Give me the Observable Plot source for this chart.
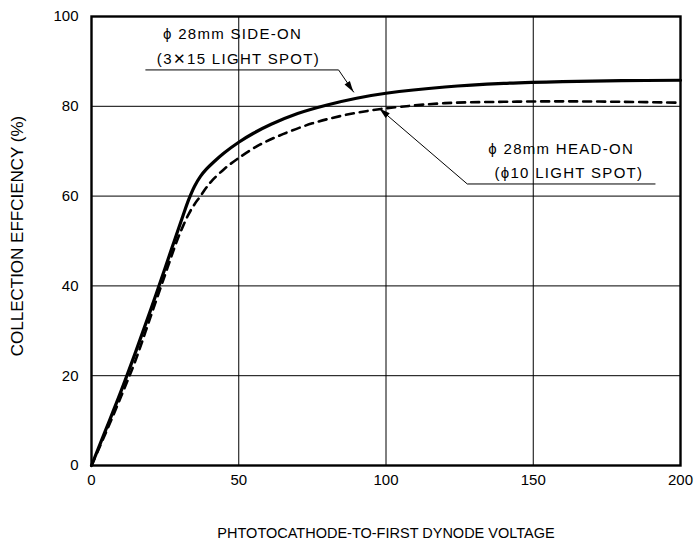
<!DOCTYPE html>
<html>
<head>
<meta charset="utf-8">
<script src="https://cdn.jsdelivr.net/npm/d3@7"></script>
<script src="https://cdn.jsdelivr.net/npm/@observablehq/plot@0.6"></script>
<style>
  html, body { margin: 0; padding: 0; background: #fff; }
  #chart svg { display: block; }
</style>
</head>
<body>
<div id="chart"></div>
<script>
// Side-on (solid)
const sideOnVoltage = [0, 5, 10, 15, 20, 25, 28, 31, 33, 35, 37, 39, 41.5, 45, 50, 55, 61, 70, 80, 90, 100, 120, 140, 160, 180, 200];
const sideOnEff     = [0, 8.2, 16.5, 25.3, 34.5, 44, 49.8, 55.5, 59.2, 62.2, 64.4, 66, 67.6, 69.6, 72, 74, 76, 78.4, 80.3, 81.8, 82.9, 84.3, 85.1, 85.5, 85.7, 85.8];
// Head-on (dashed)
const headOnVoltage = [0, 5, 10, 15, 20, 25, 29, 31, 33, 35, 37, 39, 41, 45, 50, 57, 65, 75, 85, 95, 105, 120, 140, 160, 180, 200];
const headOnEff     = [0, 7.5, 15.3, 23.5, 33, 42.5, 50, 53.2, 56, 58.2, 60, 61.9, 63.5, 66, 68.5, 71.4, 73.8, 76.2, 77.9, 79.1, 79.9, 80.7, 81, 81.1, 81, 80.8];

const xTicks = [0, 50, 100, 150, 200];
const yTicks = [0, 20, 40, 60, 80, 100];
const xTitle = "PHTOTOCATHODE-TO-FIRST DYNODE VOLTAGE";
const yTitle = "COLLECTION EFFCIENCY (%)";

// annotation labels
const sideOnLabel = ["\u03D5 28mm SIDE-ON", "(3\u271515 LIGHT SPOT)"];
const headOnLabel = ["\u03D5 28mm HEAD-ON", "(\u03D510 LIGHT SPOT)"];

const sideOn = sideOnVoltage.map((v, i) => ({v, e: sideOnEff[i]}));
const headOn = headOnVoltage.map((v, i) => ({v, e: headOnEff[i]}));

// leader lines in data units: underline, then pointer to curve
const leaders = [
  {under: [18.3, 83.9, 88.1], tip: [89.1, 83.1], from: [83.9, 88.1]},
  {under: [127.6, 191.5, 62.7], tip: [97.9, 79.4], from: [127.6, 62.7]}
];

const font = "'Liberation Sans', Arial, Helvetica, sans-serif";

const chart = Plot.plot({
  width: 698,
  height: 541,
  marginLeft: 91,
  marginRight: 18,
  marginTop: 16,
  marginBottom: 76,
  style: {fontFamily: font, fontSize: "15px", color: "#000", background: "#fff"},
  x: {domain: [0, 200], ticks: xTicks, tickSize: 0, tickPadding: 9, label: null},
  y: {domain: [0, 100], ticks: yTicks, tickSize: 0, tickPadding: 13, label: null},
  marks: [
    Plot.gridX(xTicks.slice(1, -1), {stroke: "#000", strokeOpacity: 1, strokeWidth: 1}),
    Plot.gridY(yTicks.slice(1, -1), {stroke: "#000", strokeOpacity: 1, strokeWidth: 1}),
    Plot.line(headOn, {x: "v", y: "e", stroke: "#000", strokeWidth: 2.6, strokeDasharray: "8,6", curve: "catmull-rom"}),
    Plot.line(sideOn, {x: "v", y: "e", stroke: "#000", strokeWidth: 3.2, curve: "catmull-rom"}),
    // annotations text
    Plot.text([sideOnLabel[0]], {x: 47.9, y: 95.1, text: d => d, textAnchor: "middle", lineAnchor: "bottom", fill: "#000", fontSize: 15}),
    Plot.text([sideOnLabel[1]], {x: 49.9, y: 89.5, text: d => d, textAnchor: "middle", lineAnchor: "bottom", fill: "#000", fontSize: 15}),
    Plot.text([headOnLabel[0]], {x: 159.5, y: 69.3, text: d => d, textAnchor: "middle", lineAnchor: "bottom", fill: "#000", fontSize: 15}),
    Plot.text([headOnLabel[1]], {x: 162.1, y: 64.1, text: d => d, textAnchor: "middle", lineAnchor: "bottom", fill: "#000", fontSize: 15}),
    // leader lines
    Plot.link(leaders, {x1: d => d.under[0], x2: d => d.under[1], y1: d => d.under[2], y2: d => d.under[2], stroke: "#000", strokeWidth: 1}),
    Plot.link(leaders, {x1: d => d.from[0], y1: d => d.from[1], x2: d => d.tip[0], y2: d => d.tip[1], stroke: "#000", strokeWidth: 1}),
    // axis titles
    Plot.text([yTitle], {frameAnchor: "left", textAnchor: "middle", dx: -74, dy: -5, rotate: -90, text: d => d, fill: "#000", fontSize: 17}),
    Plot.text([xTitle], {frameAnchor: "bottom", textAnchor: "middle", dy: 72, text: d => d, fill: "#000", fontSize: 14.5}),
    Plot.frame({stroke: "#000", strokeWidth: 2.4})
  ]
});

// filled arrowheads at the leader tips (positions through the plot's scales)
const sx = chart.scale("x"), sy = chart.scale("y");
const svg = d3.select(chart.tagName.toLowerCase() === "svg" ? chart : chart.querySelector("svg"));
for (const L of leaders) {
  const x1 = sx.apply(L.from[0]), y1 = sy.apply(L.from[1]);
  const x2 = sx.apply(L.tip[0]), y2 = sy.apply(L.tip[1]);
  const a = Math.atan2(y2 - y1, x2 - x1), len = 11, hw = 3.2;
  const bx = x2 - len * Math.cos(a), by = y2 - len * Math.sin(a);
  const px = -Math.sin(a) * hw, py = Math.cos(a) * hw;
  svg.append("path")
    .attr("d", `M${x2},${y2}L${bx + px},${by + py}L${bx - px},${by - py}Z`)
    .attr("fill", "#000");
}

// letter spacing on annotation labels to match the reference's wide lettering
const annoLabels = [...sideOnLabel, ...headOnLabel];
svg.selectAll("text").filter(function() { return annoLabels.includes(this.textContent); })
  .attr("letter-spacing", "1.3px");

document.getElementById("chart").appendChild(chart);
</script>
</body>
</html>
